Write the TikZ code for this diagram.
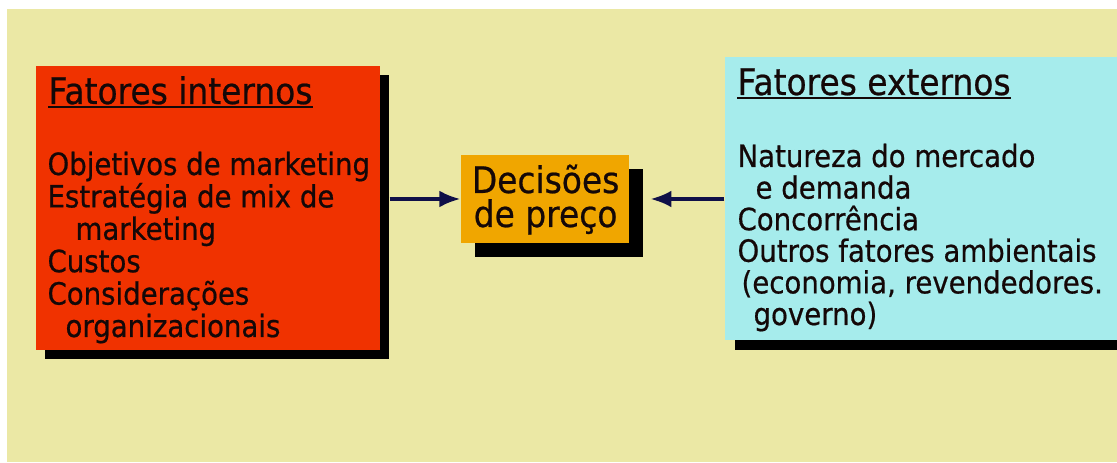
\documentclass[tikz,border=0pt]{standalone}
\usepackage{fontspec}
\setmainfont{DejaVu Sans}[FakeStretch=0.9, FakeBold=0.6]
\usepackage{xcolor}
\usepackage{tikz}
\usetikzlibrary{arrows.meta,shadows}
\tikzset{>={Latex[length=15pt,width=12pt]}}

\definecolor{bgyellow}{RGB}{235,232,165}
\definecolor{intred}{RGB}{240,50,0}
\definecolor{decorange}{RGB}{240,166,0}
\definecolor{extcyan}{RGB}{166,236,236}
\definecolor{arrnavy}{RGB}{16,16,72}
\definecolor{ink}{RGB}{20,8,8}

\newcommand{\headsize}{\fontsize{26}{30}\selectfont}
\newcommand{\bodysize}{\fontsize{21.8}{24}\selectfont}

\begin{document}
\begin{tikzpicture}[thick, font=\bodysize, text=ink]

  \tikzset{box/.style={draw=none, inner sep=0pt},
           txt/.style={anchor=base west, inner sep=0pt},
           head/.style={txt, font=\headsize},
           ul/.style={line width=1.5pt, ink}}

  % page and background
  \clip (0,0) rectangle (27.925,11.55);
  \fill[white] (0,0) rectangle (27.925,11.55);
  \fill[bgyellow] (0.175,0) rectangle (27.925,11.325);

  % internal factors
  \node[box, fill=intred, minimum width=8.6cm, minimum height=7.1cm,
        drop shadow={shadow xshift=0.225cm, shadow yshift=-0.225cm,
                     fill=black, opacity=1}] (intbox) at (5.2,6.35) {};
  \node[head] (inthead) at (1.2,8.95) {Fatores internos};
  \draw[ul] ([yshift=-0.08cm]inthead.base west) -- ([yshift=-0.08cm]inthead.base east);
  \foreach \t [count=\i from 0] in {Objetivos de marketing, Estratégia de mix de,
      \hspace{0.7cm}marketing, Custos, Considerações,
      \hspace{0.45cm}organizacionais} {
    \node[txt] (int\i) at (1.175, 7.175-0.81*\i) {\t};
  }

  % price decisions
  \node[box, fill=decorange, minimum width=4.2cm, minimum height=2.2cm,
        drop shadow={shadow xshift=0.35cm, shadow yshift=-0.35cm,
                     fill=black, opacity=1}] (dec) at (13.625,6.575) {};
  \node[anchor=base, inner sep=0pt, font=\headsize] (dec1) at (13.64,6.725) {Decisões};
  \node[anchor=base, inner sep=0pt, font=\headsize] (dec2) at (13.64,5.875) {de preço};

  % external factors
  \node[box, fill=extcyan, minimum width=10.2cm, minimum height=7.075cm,
        drop shadow={shadow xshift=0.25cm, shadow yshift=-0.25cm,
                     fill=black, opacity=1}] (extbox) at (23.225,6.5875) {};
  \node[head] (exthead) at (18.425,9.175) {Fatores externos};
  \draw[ul] ([yshift=-0.08cm]exthead.base west) -- ([yshift=-0.08cm]exthead.base east);
  \foreach \t [count=\i from 0] in {Natureza do mercado, \hspace{0.45cm}e demanda,
      Concorrência, Outros fatores ambientais,
      {\hspace{0.1cm}(economia, revendedores.}, \hspace{0.4cm}governo)} {
    \node[txt] (ext\i) at (18.425, 7.375-0.79*\i) {\t};
  }

  % factors feed the decision
  \draw[->, line width=2.6pt, arrnavy]
    ([xshift=0.225cm]intbox.east |- dec.west) -- (dec.west);
  \draw[->, line width=2.6pt, arrnavy]
    (extbox.west |- dec.east) -- ([xshift=0.52cm]dec.east);

\end{tikzpicture}
\end{document}
